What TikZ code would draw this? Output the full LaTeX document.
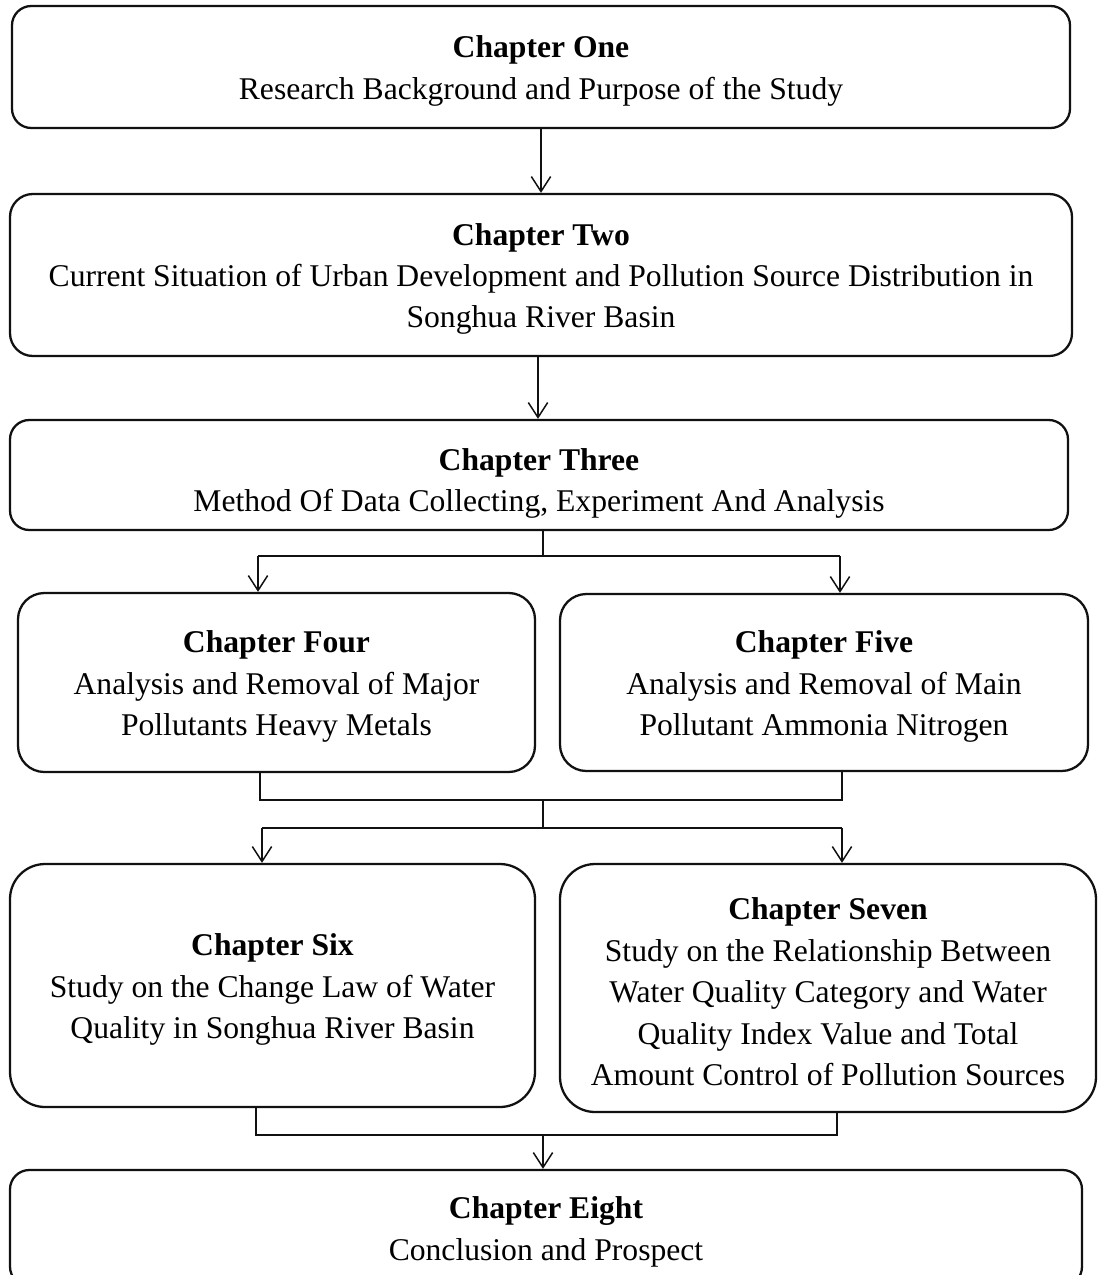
\documentclass[tikz,border=0pt]{standalone}
\usepackage{fontspec}
\setmainfont{Liberation Serif}
\usepackage{xcolor}
\usetikzlibrary{arrows.meta}
\definecolor{chartink}{HTML}{111111}
\newcommand{\chaphead}[2][17pt]{\rule{0pt}{#1}\textbf{#2}\\}

\begin{document}
\begin{tikzpicture}[x=0.02cm, y=-0.02cm,
  chapbox/.style={draw=chartink, line width=1.3pt, rounded corners=#1,
    align=center, inner sep=0pt, text=black,
    font=\fontsize{18}{23.6}\selectfont},
  chapbox/.default=11pt,
  link/.style={chartink, line width=0.85pt},
  flow/.style={link, -{Straight Barb[length=8.5pt, width=11pt, line width=0.85pt]}}]

  \useasboundingbox (0,0) rectangle (1098,1275);
  \clip (0,0) rectangle (1098,1275);

  \node[chapbox, minimum width=1058*0.02cm, minimum height=122*0.02cm] (c1) at (541,67)
    {\chaphead{Chapter One}Research Background and Purpose of the Study};

  \node[chapbox=13pt, minimum width=1062*0.02cm, minimum height=162*0.02cm] (c2) at (541,275)
    {\chaphead{Chapter Two}Current Situation of Urban Development and Pollution Source Distribution in\\Songhua River Basin};

  \node[chapbox, minimum width=1058*0.02cm, minimum height=110*0.02cm] (c3) at (539,475)
    {\chaphead[22pt]{Chapter Three}Method Of Data Collecting, Experiment And Analysis};

  \node[chapbox=15pt, minimum width=517*0.02cm, minimum height=179*0.02cm] (c4) at (276.5,682.5)
    {\chaphead{Chapter Four}Analysis and Removal of Major\\Pollutants Heavy Metals};
  \node[chapbox=15pt, minimum width=528*0.02cm, minimum height=177*0.02cm] (c5) at (824,682.5)
    {\chaphead{Chapter Five}Analysis and Removal of Main\\Pollutant Ammonia Nitrogen};

  \node[chapbox=20pt, minimum width=525*0.02cm, minimum height=243*0.02cm] (c6) at (272.5,985.5)
    {\chaphead{Chapter Six}Study on the Change Law of Water\\Quality in Songhua River Basin};
  \node[chapbox=20pt, minimum width=536*0.02cm, minimum height=248*0.02cm] (c7) at (828,988)
    {\chaphead{Chapter Seven}Study on the Relationship Between\\Water Quality Category and Water\\Quality Index Value and Total\\Amount Control of Pollution Sources};

  \node[chapbox, minimum width=1072*0.02cm, minimum height=116*0.02cm] (c8) at (546,1228)
    {\chaphead{Chapter Eight}Conclusion and Prospect};

  % junction points
  \coordinate (d2) at (538,390);
  \coordinate (s3) at (543,556);
  \coordinate (a4) at (258,556);
  \coordinate (a5) at (840,556);
  \coordinate (b4) at (260,800);
  \coordinate (b5) at (842,800);
  \coordinate (m45) at (543,800);
  \coordinate (s45) at (543,828);
  \coordinate (a6) at (262,828);
  \coordinate (a7) at (842,828);
  \coordinate (b6) at (256,1135);
  \coordinate (b7) at (837,1135);
  \coordinate (m67) at (543,1135);

  \draw[flow] (c1.south) -- (c2.north);
  \draw[flow] (d2 |- c2.south) -- (d2 |- c3.north);

  \draw[link] (c3.south -| s3) -- (s3);
  \draw[link] (a4) -- (a5);
  \draw[flow] (a4) -- (a4 |- c4.north);
  \draw[flow] (a5) -- (a5 |- c5.north);

  \draw[link] (b4 |- c4.south) -- (b4) -- (b5) -- (b5 |- c5.south);
  \draw[link] (m45) -- (s45);
  \draw[link] (a6) -- (a7);
  \draw[flow] (a6) -- (a6 |- c6.north);
  \draw[flow] (a7) -- (a7 |- c7.north);

  \draw[link] (b6 |- c6.south) -- (b6) -- (b7) -- (b7 |- c7.south);
  \draw[flow] (m67) -- (m67 |- c8.north);

\end{tikzpicture}
\end{document}
